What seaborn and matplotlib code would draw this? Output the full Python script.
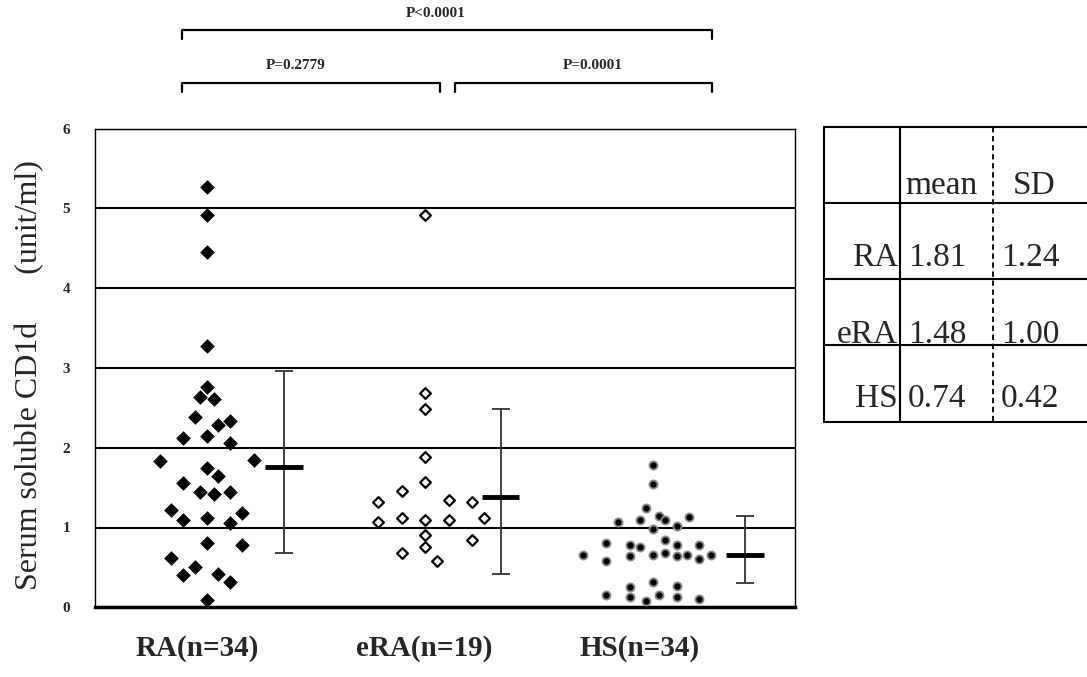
import numpy as np
import pandas as pd
import matplotlib
matplotlib.use("Agg")
import matplotlib.pyplot as plt
import seaborn as sns

# ===================== data =====================
groups = ["RA", "eRA", "HS"]
tick_labels = ["RA(n=34)", "eRA(n=19)", "HS(n=34)"]

ra_vals = [5.27, 4.91, 4.45, 3.28, 2.76, 2.63, 2.61, 2.39, 2.34, 2.28, 2.12, 2.15,
           2.06, 1.83, 1.84, 1.75, 1.65, 1.56, 1.45, 1.42, 1.44, 1.22, 1.18, 1.09,
           1.12, 1.06, 0.80, 0.78, 0.62, 0.51, 0.40, 0.42, 0.32, 0.09]
ra_slot = [0, 0, 0, 0, 0, -0.6, 0.6, -1, 2, 1, -2, 0,
           2, -4, 4, 0, 1, -2, -0.6, 0.6, 2, -3, 3, -2,
           0, 2, 0, 3, -3, -1, -2, 1, 2, 0]

era_vals = [4.92, 2.69, 2.49, 1.88, 1.57, 1.46, 1.32, 1.34, 1.32, 1.07, 1.12, 1.09,
            1.10, 1.12, 0.90, 0.84, 0.68, 0.75, 0.58]
era_slot = [0, 0, 0, 0, 0, -2, -4, 2, 4, -4, -2, 0,
            2, 5, 0, 4, -2, 0, 1]

hs_vals = [1.78, 1.55, 1.24, 1.15, 1.09, 1.13, 1.07, 1.09, 0.98, 1.02, 0.81, 0.78,
           0.76, 0.84, 0.78, 0.78, 0.65, 0.58, 0.64, 0.66, 0.68, 0.64, 0.65, 0.60,
           0.66, 0.32, 0.25, 0.27, 0.15, 0.13, 0.08, 0.16, 0.13, 0.11]
hs_slot = [0, 0, -0.6, 0.5, 1, 3, -3, -1.1, 0, 2, -4, -2,
           -1.1, 1, 2, 3.9, -6, -4, -2, 0, 1, 2, 2.9, 3.9,
           4.9, 0, -2, 2, -4, -2, -0.6, 0.5, 2, 3.9]

# drawn mean bar and error-bar ends (as plotted, not the table values)
bar_mean = [1.76, 1.38, 0.65]
bar_low = [0.675, 0.42, 0.30]
bar_high = [2.96, 2.48, 1.14]

# table
table_mean = ["1.81", "1.48", "0.74"]
table_sd = ["1.24", "1.00", "0.42"]

p_labels = ["P<0.0001", "P=0.2779", "P=0.0001"]

# ===================== layout =====================
group_center = [9.49, 28.04, 47.43]
bar_x = [16.08, 34.46, 55.25]
tick_x = [8.7, 28.0, 46.3]

sns.set_theme(style="white")
plt.rcParams["font.family"] = ["Liberation Serif", "DejaVu Serif"]

df = pd.concat([
    pd.DataFrame({"group": "RA", "x": np.array(ra_slot) + group_center[0], "value": ra_vals}),
    pd.DataFrame({"group": "eRA", "x": np.array(era_slot) + group_center[1], "value": era_vals}),
    pd.DataFrame({"group": "HS", "x": np.array(hs_slot) + group_center[2], "value": hs_vals}),
])

fig = plt.figure(figsize=(10.87, 6.77), dpi=100)
ax = fig.add_axes([95 / 1087, (677 - 607.3) / 677, 700 / 1087, 478.8 / 677])

sns.scatterplot(data=df[df.group == "RA"], x="x", y="value", marker="D", s=48,
                color="black", edgecolor="black", linewidth=0.5, ax=ax, zorder=4)
sns.scatterplot(data=df[df.group == "eRA"], x="x", y="value", marker="D", s=30,
                color="white", edgecolor="black", linewidth=1.6, ax=ax, zorder=4)
sns.scatterplot(data=df[df.group == "HS"], x="x", y="value", marker="o", s=34,
                color="black", edgecolor="#8a8a8a", linewidth=1.3, ax=ax, zorder=4)

bx = np.array(bar_x)
m = np.array(bar_mean)
ax.errorbar(bx, m, yerr=[m - np.array(bar_low), np.array(bar_high) - m], fmt="none",
            ecolor="#333333", elinewidth=1.3, capsize=6.5, capthick=1.3, zorder=3)
ax.hlines(m, bx - 1.6, bx + 1.6, color="black", lw=3.5, zorder=5)

ax.set_xlim(0, 59.47)
ax.set_ylim(0, 6)
ax.set_yticks(range(7))
ax.set_yticklabels([str(i) for i in range(7)], fontsize=11, fontweight="bold")
ax.set_xticks(tick_x)
ax.set_xticklabels(tick_labels, fontsize=21, fontweight="bold")
ax.tick_params(axis="x", length=0, pad=20)
ax.tick_params(axis="y", length=0, pad=18)
ax.yaxis.grid(True, color="black", lw=1.5)
ax.xaxis.grid(False)
ax.set_axisbelow(True)
ax.set_xlabel("")
ax.set_ylabel("Serum soluble CD1d      (unit/ml)", fontsize=23)
ax.yaxis.set_label_coords(-0.073, 0.485)
for side in ["left", "top", "right"]:
    ax.spines[side].set_color("black")
    ax.spines[side].set_linewidth(1.0)
ax.spines["bottom"].set_color("black")
ax.spines["bottom"].set_linewidth(2.5)

# significance brackets
def bracket(x0, x1, y, drop, text, tx, ty):
    ax.plot([x0, x0, x1, x1], [y - drop, y, y, y - drop], color="black", lw=1.6,
            transform=ax.transAxes, clip_on=False)
    ax.text(tx, ty, text, transform=ax.transAxes, ha="center", va="center",
            fontsize=11, fontweight="bold")

bracket(0.124, 0.881, 1.206, 0.02, p_labels[0], 0.487, 1.241)
bracket(0.124, 0.493, 1.095, 0.018, p_labels[1], 0.286, 1.131)
bracket(0.514, 0.881, 1.095, 0.018, p_labels[2], 0.711, 1.131)

# mean / SD table
axt = fig.add_axes([824 / 1087, (677 - 423) / 677, 263 / 1087, 296 / 677])
axt.set_xlim(0, 263)
axt.set_ylim(296, 0)
axt.axis("off")
row_lines = [0, 75.7, 152.3, 218, 294.7]
for y in row_lines:
    axt.plot([0, 263], [y, y], color="black", lw=1.5, clip_on=False)
axt.plot([0, 0], [0, 294.7], color="black", lw=1.5, clip_on=False)
axt.plot([76, 76], [0, 294.7], color="black", lw=1.5, clip_on=False)
axt.plot([169.3, 169.3], [0, 294.7], color="black", lw=1.3, ls=(0, (3, 2)), clip_on=False)

fs = 24
axt.text(81, 67, "mean", fontsize=fs, va="baseline", ha="left")
axt.text(189, 67, "SD", fontsize=fs, va="baseline", ha="left")
baselines = [139, 216, 280]
for g, mval, sval, yb in zip(groups, table_mean, table_sd, baselines):
    axt.text(74, yb, g, fontsize=fs, va="baseline", ha="right")
    axt.text(84, yb, mval, fontsize=fs, va="baseline", ha="left")
    axt.text(177, yb, sval, fontsize=fs, va="baseline", ha="left")

fig.savefig("out.png", dpi=100)
